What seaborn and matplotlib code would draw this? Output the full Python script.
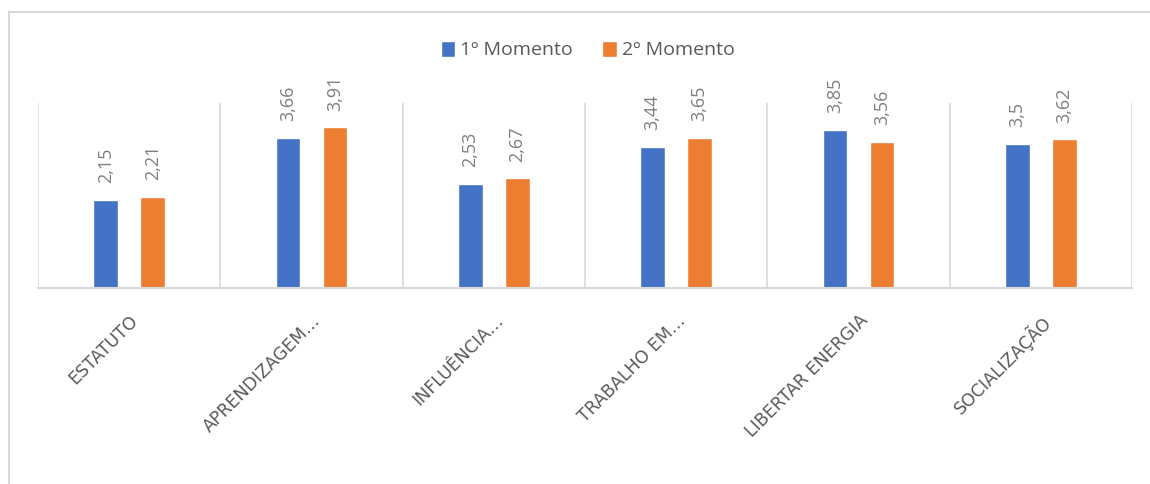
import matplotlib
matplotlib.use("Agg")
import matplotlib.pyplot as plt
import seaborn as sns
import pandas as pd
from matplotlib.patches import Rectangle

categories = ["ESTATUTO", "APRENDIZAGEM…", "INFLUÊNCIA…", "TRABALHO EM…", "LIBERTAR ENERGIA", "SOCIALIZAÇÃO"]
series_names = ["1º Momento", "2º Momento"]
momento1 = [2.15, 3.66, 2.53, 3.44, 3.85, 3.50]
momento2 = [2.21, 3.91, 2.67, 3.65, 3.56, 3.62]
labels1 = ["2,15", "3,66", "2,53", "3,44", "3,85", "3,5"]
labels2 = ["2,21", "3,91", "2,67", "3,65", "3,56", "3,62"]

df = pd.DataFrame({
    "cat": categories * 2,
    "serie": [series_names[0]] * len(categories) + [series_names[1]] * len(categories),
    "val": momento1 + momento2,
})

sns.set_theme(style="white")
plt.rcParams["font.family"] = ["Open Sans", "DejaVu Sans"]

fig = plt.figure(figsize=(11.5, 4.84), dpi=100)
ax = fig.add_axes([38 / 1150, 1 - 288 / 484, (1132 - 38) / 1150, (288 - 103) / 484])

palette = {series_names[0]: "#4472C4", series_names[1]: "#ED7D31"}
sns.barplot(data=df, x="cat", y="val", hue="serie", order=categories,
            hue_order=series_names, palette=palette, width=0.516, gap=0.47,
            saturation=1, ax=ax, legend=True)

ax.set_ylim(0, 4.5)
ax.set_xlim(-0.5, len(categories) - 0.5)
ax.set_xlabel("")
ax.set_ylabel("")
ax.set_yticks([])

# vertical category gridlines
for b in range(len(categories) + 1):
    ax.axvline(b - 0.5, color="#D9D9D9", lw=1.2, zorder=0)

for s in ["top", "right", "left"]:
    ax.spines[s].set_visible(False)
ax.spines["bottom"].set_color("#D9D9D9")
ax.spines["bottom"].set_linewidth(1.5)

# data labels
for container, labs in zip(ax.containers, [labels1, labels2]):
    for bar, lab in zip(container, labs):
        ax.annotate(lab, (bar.get_x() + bar.get_width() / 2, bar.get_height()),
                    xytext=(0, 12), textcoords="offset points",
                    rotation=90, ha="center", va="bottom",
                    fontsize=13, color="#7F7F7F")

ax.set_xticks(range(len(categories)))
ax.set_xticklabels(categories, rotation=45, ha="right", rotation_mode="anchor",
                   fontsize=12.5, color="#595959", family=["DejaVu Sans"])
ax.tick_params(axis="x", length=0, pad=17)

leg = ax.legend(loc="center", bbox_to_anchor=(0.511, 1 - 50 / 484), bbox_transform=fig.transFigure,
                ncol=2, frameon=False, fontsize=14, handlelength=0.75, handleheight=0.9,
                handletextpad=0.25, columnspacing=1.5)
for t in leg.get_texts():
    t.set_color("#595959")

fig.add_artist(Rectangle((9 / 1150, -0.1), 1.2, 1 - 12 / 484 + 0.1,
                         transform=fig.transFigure, fill=False,
                         edgecolor="#D9D9D9", lw=1.5))

fig.savefig("out.png", dpi=100, facecolor="white")
